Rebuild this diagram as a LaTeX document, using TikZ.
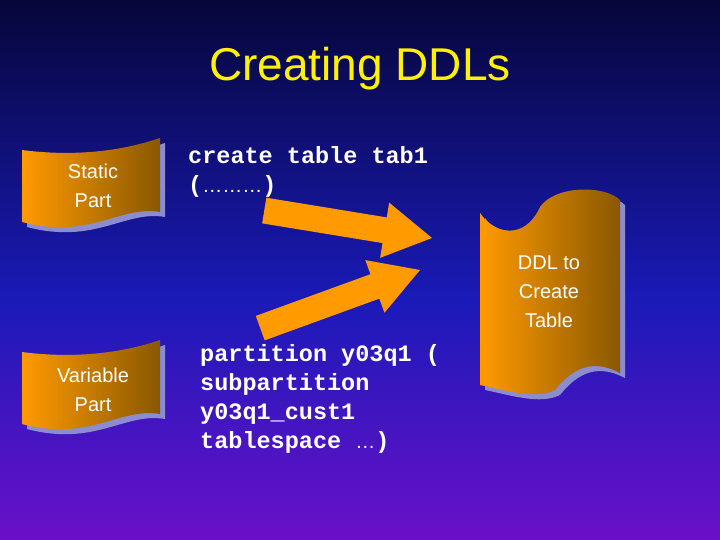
\documentclass[tikz,border=0pt]{standalone}
\usepackage{fontspec}
\setmainfont{Liberation Sans}
\newfontfamily\codefont{Liberation Mono}
\definecolor{orng}{HTML}{FF9A00}
\definecolor{brwn}{HTML}{8A5800}
\definecolor{shad}{HTML}{8C8CD0}
\definecolor{bgtop}{HTML}{06063A}
\definecolor{bgmid}{HTML}{1A1AB8}
\definecolor{bgbot}{HTML}{6A10C8}
\tikzset{
 lbl/.style={text=white,font=\fontsize{20}{29}\selectfont,align=center},
 code/.style={text=white,font=\codefont\bfseries\fontsize{23.5}{29}\selectfont,align=left,anchor=north west,inner sep=0pt},
}
\newcommand{\flagpath}[2]{% x,y offset
  (#1+22,#2+150) .. controls (#1+60,#2+155) and (#1+110,#2+155) .. (#1+160,#2+138)
  -- (#1+160,#2+212) .. controls (#1+120,#2+205) and (#1+90,#2+240) .. (#1+22,#2+222) -- cycle}
\newcommand{\arrowpoly}{(0,0) -- (-48,28) -- (-48,13) -- (-170,13) -- (-170,-13) -- (-48,-13) -- (-48,-28) -- cycle}
\begin{document}
\begin{tikzpicture}[x=1pt,y=-1pt]
\useasboundingbox (0,0) rectangle (720,540);
\shade[top color=bgtop,bottom color=bgmid] (0,0) rectangle (720,300);
\shade[top color=bgmid,bottom color=bgbot] (0,299.5) rectangle (720,540);
\node[text=yellow,font=\fontsize{46}{52}\selectfont] (title) at (360,69) {Creating DDLs};
% static flag
\fill[shad] \flagpath{5}{5};
\shade[left color=orng,right color=brwn] \flagpath{0}{0};
\node[lbl] (static) at (93,186) {Static\\Part};
% variable flag
\fill[shad] \flagpath{5}{207};
\shade[left color=orng,right color=brwn] \flagpath{0}{202};
\node[lbl] (variable) at (93,390) {Variable\\Part};
% DDL scroll
\fill[shad] (485,218) .. controls (500,240) and (530,245) .. (545,212) .. controls (560,190) and (610,190) .. (625,205)
  -- (625,378) .. controls (600,365) and (580,370) .. (560,395) .. controls (540,405) and (510,395) .. (485,390) -- cycle;
\shade[left color=orng,right color=brwn] (480,213) .. controls (495,235) and (525,240) .. (540,207) .. controls (555,185) and (605,185) .. (620,200)
  -- (620,373) .. controls (595,360) and (575,365) .. (555,390) .. controls (535,400) and (505,390) .. (480,385) -- cycle;
\node[lbl] (ddl) at (549,292) {DDL to\\Create\\Table};
% code
\node[code] (c1) at (188,146) {create table tab1\\(\textmd{\fontspec{Liberation Sans}\fontsize{20}{29}\selectfont………})};
\node[code] (c2) at (200,344) {partition y03q1 (\\subpartition\\y03q1\_cust1\\tablespace \textmd{\fontspec{Liberation Sans}\fontsize{20}{29}\selectfont…})};
% arrows
\coordinate (t1) at (432,238);
\coordinate (t2) at (420,270);
\fill[orng, shift={(t1)}, rotate=-9.3] \arrowpoly;
\fill[orng, shift={(t2)}, rotate=20] \arrowpoly;
\end{tikzpicture}
\end{document}
